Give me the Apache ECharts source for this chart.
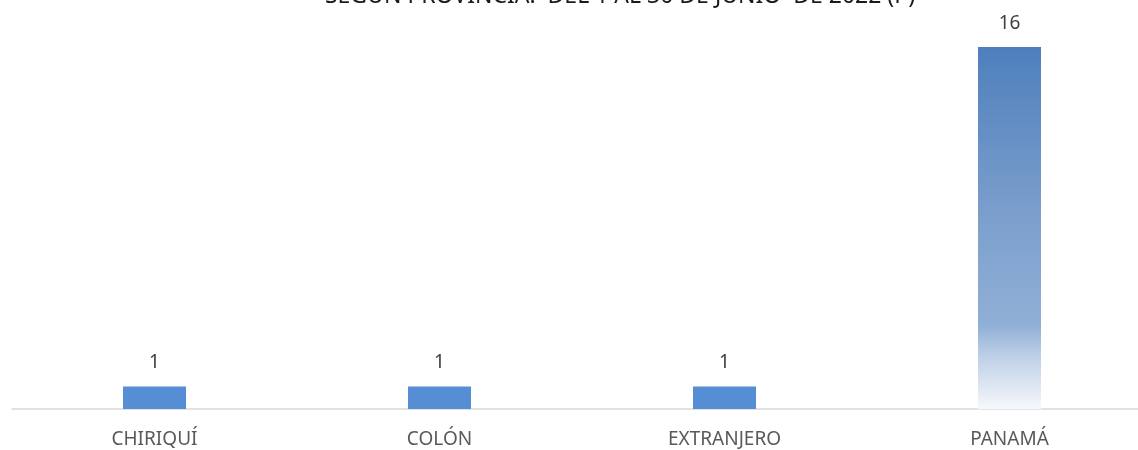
<!DOCTYPE html>
<html>
<head>
<meta charset="utf-8">
<script src="https://cdn.jsdelivr.net/npm/echarts@6/dist/echarts.min.js"></script>
<style>html,body{margin:0;padding:0;background:#fff;overflow:hidden}#c{width:1152px;height:450px}</style>
</head>
<body>
<div id="c"></div>
<script>
var categories = ['CHIRIQUÍ', 'COLÓN', 'EXTRANJERO', 'PANAMÁ'];
var values = [1, 1, 1, 16];
var titleText = 'SEGÚN PROVINCIA:  DEL 1 AL 30 DE JUNIO  DE 2022 (P)';

var solid = '#558ED5';
var grad = new echarts.graphic.LinearGradient(0, 0, 0, 1, [
  {offset: 0, color: '#4E7FBC'},
  {offset: 0.45, color: '#7A9ECC'},
  {offset: 0.77, color: '#90AFD6'},
  {offset: 0.85, color: '#BCCEE6'},
  {offset: 1, color: '#F6F8FC'}
]);

var chart = echarts.init(document.getElementById('c'));
chart.setOption({
  animation: false,
  title: {
    text: titleText,
    left: 615,
    top: -20,
    textAlign: 'center',
    textStyle: {fontFamily: 'Noto Sans', fontSize: 23, fontWeight: 'normal', color: '#1a1a1a'}
  },
  grid: {left: 12, right: 0, top: 47, bottom: 41, containLabel: false},
  xAxis: {
    type: 'category',
    data: categories,
    axisLine: {lineStyle: {color: '#D9D9D9', width: 1.5}},
    axisTick: {show: false},
    axisLabel: {color: '#595959', fontFamily: 'Noto Sans', fontSize: 19, margin: 21}
  },
  yAxis: {
    type: 'value', min: 0, max: 16,
    show: false,
    splitLine: {show: false}
  },
  series: [{
    type: 'bar',
    barWidth: 63,
    data: values.map(function (v, i) {
      return {value: v, itemStyle: {color: i === 3 ? grad : solid}};
    }),
    label: {
      show: true, position: 'top', distance: 14,
      color: '#404040', fontFamily: 'Noto Sans', fontSize: 19
    }
  }]
});
</script>
</body>
</html>
